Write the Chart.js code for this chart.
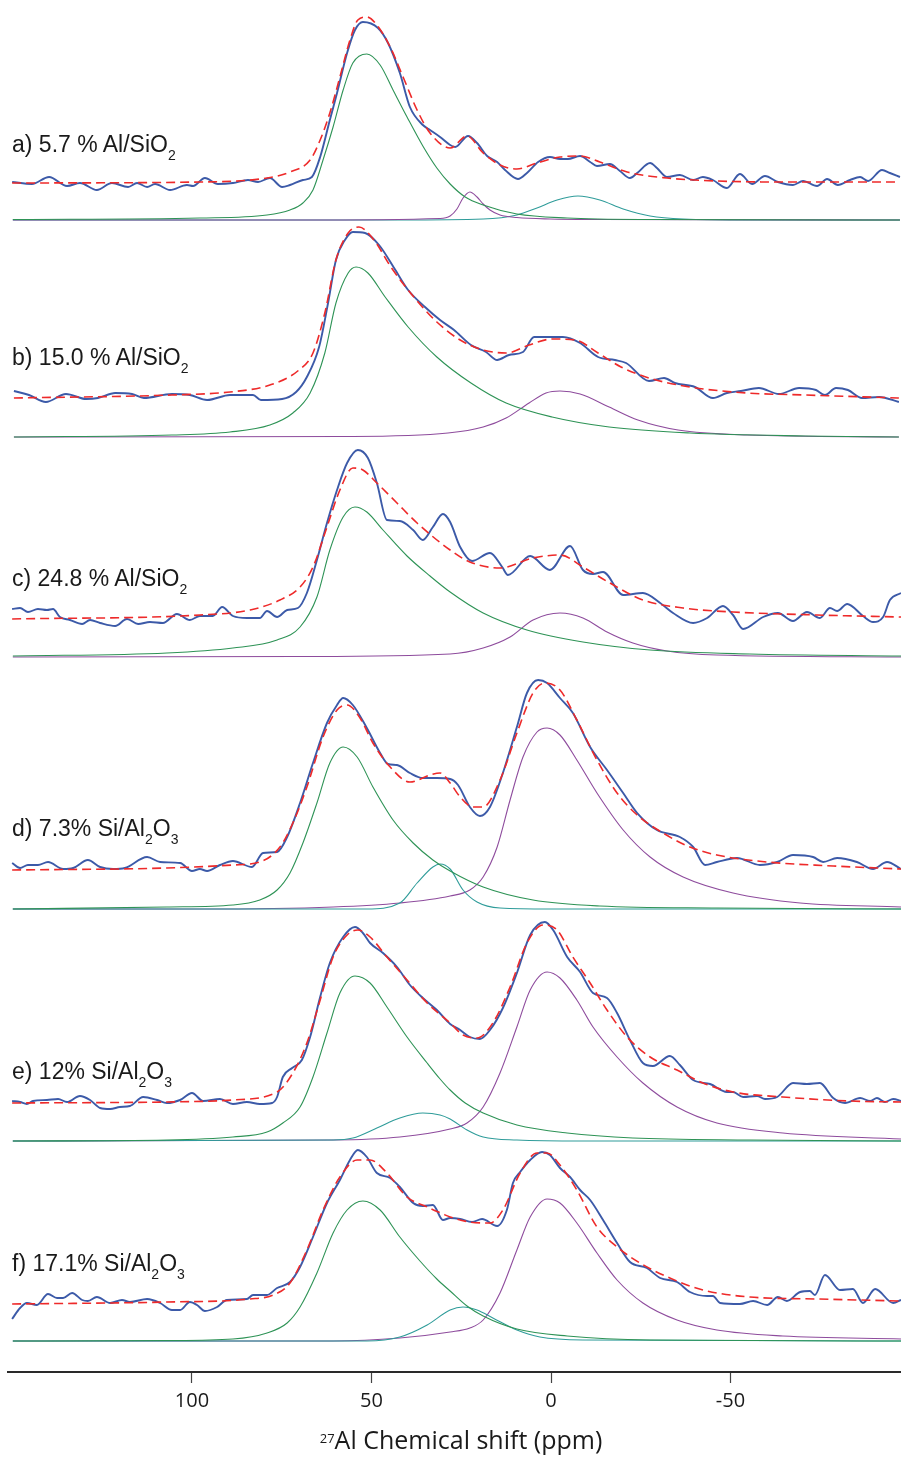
<!DOCTYPE html>
<html>
<head>
<meta charset="utf-8">
<script src="https://cdn.jsdelivr.net/npm/chart.js@4.4.1/dist/chart.umd.min.js"></script>
<style>
  html, body { margin: 0; padding: 0; background: #ffffff; }
  #wrap { position: relative; width: 901px; height: 1457px; overflow: hidden; }
  canvas { position: absolute; left: 0; top: 0; }
  .lbl { position: absolute; left: 12px; font-family: "Liberation Sans", Arimo, Helvetica, Arial, sans-serif;
         font-size: 23px; line-height: 23px; color: #1a1a1a; white-space: nowrap; }
  .lbl .s { font-size: 14px; position: relative; top: 8px; }
  #xtitle { position: absolute; top: 1425px; left: 0; width: 922px; text-align: center;
            font-family: "Open Sans", "Noto Sans", sans-serif; font-size: 25px; line-height: 28px; color: #1a1a1a; }
  #xtitle sup { font-size: 13px; position: relative; top: -1px; vertical-align: top; }
</style>
</head>
<body>
<div id="wrap">
  <canvas id="nmr" width="901" height="1457"></canvas>
  <div class="lbl" style="top:133px">a) 5.7 % Al/SiO<span class="s">2</span></div>
  <div class="lbl" style="top:346px">b) 15.0 % Al/SiO<span class="s">2</span></div>
  <div class="lbl" style="top:567px">c) 24.8 % Al/SiO<span class="s">2</span></div>
  <div class="lbl" style="top:817px">d) 7.3% Si/Al<span class="s">2</span>O<span class="s">3</span></div>
  <div class="lbl" style="top:1060px">e) 12% Si/Al<span class="s">2</span>O<span class="s">3</span></div>
  <div class="lbl" style="top:1252px">f) 17.1% Si/Al<span class="s">2</span>O<span class="s">3</span></div>
  <div id="xtitle"><sup>27</sup>Al Chemical shift (ppm)</div>
</div>
<script>
// 27Al MAS NMR spectra: [chemical shift (ppm), intensity (a.u.)]
// exp = measured spectrum, fit = total fit, the rest are the fitted components.

// a) 5.7 % Al/SiO2
const expA = [[150.1,38],[144.6,36],[139.8,43],[134.8,34],[131.2,37],[126.5,30],[122.3,37],[117.8,33],[115.3,37],[112.5,33],[110.3,36],[106.1,30],[101.4,35],[99.7,34],[96.4,42],[92.8,36],[88.6,37],[84.4,40],[81.6,38],[78.3,42],[74.9,33],[72.7,35],[69.1,40],[66.6,43],[64.3,63],[61.6,100],[59.6,127],[56.8,167],[54.6,190],[52.4,198],[48.2,192],[45.4,177],[42.1,147],[39.3,113],[35.7,95],[33.7,90],[30.9,83],[28.1,75],[26.7,73],[23.1,84],[20.6,77],[17.8,64],[15.0,58],[12.8,50],[9.2,41],[6.7,47],[3.6,58],[0.3,63],[-2.5,61],[-4.7,61],[-8.1,64],[-10.9,58],[-12.8,54],[-16.4,56],[-19.2,49],[-22.0,42],[-24.0,47],[-27.6,57],[-29.5,52],[-32.3,43],[-35.9,45],[-39.6,40],[-42.3,43],[-45.1,40],[-49.0,32],[-52.6,46],[-56.0,36],[-59.6,44],[-63.2,38],[-67.4,35],[-70.2,39],[-74.1,34],[-76.9,41],[-79.9,35],[-83.3,40],[-86.1,43],[-88.3,39],[-92.2,50],[-94.4,47],[-97.2,43]];
const fitA = [[150.1,37],[97.8,38],[79.1,42],[72.7,48],[67.1,60],[64.3,80],[61.6,107],[58.8,143],[56.0,180],[53.8,200],[51.3,203],[48.5,195],[44.8,173],[41.2,143],[37.3,110],[33.7,87],[28.1,72],[23.4,84],[18.9,67],[14.2,55],[9.5,51],[3.9,57],[-2.5,63],[-8.1,64],[-13.6,58],[-21.2,48],[-32.3,42],[-46.2,39],[-64.6,38],[-97.2,38]];
const tetA = [[149.9,0.5],[97.8,2],[79.1,5],[72.7,10],[69.1,17],[66.3,30],[63.5,60],[60.7,93],[57.9,130],[55.2,157],[51.3,166],[47.6,155],[44.0,130],[40.1,103],[35.7,74],[31.8,52],[28.1,36],[23.9,23],[18.9,15],[9.5,6],[-4.5,2],[-27.6,0.5],[-97.2,0]];
const pentA = [[149.9,0],[69.9,0],[30.9,1.5],[28.1,4],[26.2,11],[24.5,22],[22.6,28],[20.6,23],[18.9,16],[17.0,10],[14.2,5],[9.5,2.5],[0.3,1],[-13.6,0.5],[-97.2,0]];
const octA = [[149.9,0],[42.1,0],[18.9,1],[9.5,5],[3.9,12],[-1.7,20],[-7.5,24],[-13.6,20],[-20.1,11],[-27.6,4],[-36.8,1],[-55.4,0],[-97.2,0]];

// b) 15.0 % Al/SiO2
const expB = [[149.6,46],[145.4,42],[140.7,35],[135.1,43],[129.5,38],[126.2,39],[121.4,44],[116.7,43],[113.4,39],[105.6,43],[100.6,42],[95.8,37],[89.4,42],[83.0,42],[80.8,37],[74.9,38],[71.0,45],[68.0,60],[64.6,90],[62.1,134],[59.9,177],[57.4,197],[55.2,205],[51.8,204],[47.9,192],[43.7,169],[39.8,147],[35.1,130],[30.9,117],[27.0,107],[22.3,92],[18.1,85],[15.0,77],[11.7,82],[7.8,85],[4.7,100],[1.4,100],[-3.3,100],[-8.1,94],[-13.1,80],[-17.8,77],[-20.9,74],[-27.3,56],[-31.5,59],[-34.5,54],[-40.1,50],[-45.1,39],[-49.0,44],[-52.9,46],[-57.9,49],[-63.5,43],[-69.1,49],[-73.8,47],[-76.3,42],[-79.4,49],[-82.7,47],[-86.6,39],[-91.4,40],[-96.9,35]];
const fitB = [[149.6,39],[105.6,42],[89.4,45],[78.3,52],[70.2,67],[66.3,84],[63.0,124],[59.9,177],[56.5,204],[53.5,210],[49.3,197],[44.6,170],[38.2,140],[31.8,115],[25.3,97],[18.9,87],[12.5,84],[6.1,92],[-0.3,98],[-6.7,97],[-13.1,84],[-19.5,70],[-27.3,59],[-38.7,50],[-54.6,44],[-70.8,42],[-96.9,39]];
const tetB = [[149.6,0],[105.6,2],[89.4,5],[78.3,12],[71.9,24],[67.1,44],[63.0,84],[59.9,134],[56.5,164],[54.3,170],[51.0,164],[46.2,140],[39.8,110],[31.8,80],[22.3,54],[12.5,34],[-0.3,20],[-16.2,10],[-38.7,4],[-70.8,1],[-96.9,0]];
const octB = [[149.6,0],[57.4,0.5],[28.7,4],[18.9,10],[12.5,19],[6.1,34],[1.4,44],[-2.5,46],[-8.1,43],[-16.2,30],[-24.2,17],[-35.4,7],[-54.6,2],[-96.9,0]];

// c) 24.8 % Al/SiO2
const expC = [[150.1,48],[147.9,49],[145.7,45],[142.9,48],[140.4,47],[138.7,48],[136.8,40],[134.0,37],[130.6,33],[128.4,37],[125.6,34],[121.4,31],[118.1,38],[115.0,33],[111.7,35],[108.1,34],[104.2,43],[100.6,37],[97.8,41],[94.2,41],[91.6,50],[88.6,41],[84.7,39],[81.1,39],[79.1,46],[76.3,40],[73.5,47],[70.5,49],[68.0,64],[65.2,97],[62.4,134],[59.6,167],[56.8,194],[53.8,207],[51.0,199],[48.5,174],[45.7,137],[42.1,136],[38.4,127],[35.7,117],[32.9,130],[30.1,143],[28.1,135],[25.3,110],[22.0,96],[17.0,104],[13.6,90],[12.0,82],[5.8,101],[0.3,87],[-5.3,111],[-8.9,87],[-11.7,83],[-14.5,85],[-20.1,62],[-25.6,64],[-30.4,54],[-34.0,44],[-39.6,34],[-43.5,39],[-47.9,51],[-50.7,42],[-53.5,28],[-59.1,40],[-63.2,44],[-67.4,36],[-71.3,45],[-74.9,39],[-77.7,49],[-79.7,46],[-82.5,53],[-86.9,41],[-89.7,35],[-92.5,40],[-94.4,57],[-97.5,64]];
const fitC = [[150.1,38],[97.8,42],[83.8,47],[75.5,57],[69.9,70],[66.3,90],[62.4,130],[58.8,167],[55.2,189],[52.4,187],[48.5,174],[42.9,154],[37.3,134],[28.1,107],[22.6,95],[14.2,89],[5.0,99],[-2.5,102],[-8.9,90],[-16.4,74],[-25.6,57],[-36.8,49],[-50.7,45],[-74.1,42],[-97.5,40]];
const tetC = [[149.9,1],[107.0,4],[88.6,9],[76.3,17],[69.9,30],[65.2,60],[61.6,107],[57.9,140],[54.6,150],[51.3,145],[46.8,127],[40.1,101],[33.7,81],[28.1,65],[18.9,44],[6.7,27],[-8.9,15],[-27.6,7],[-55.4,3],[-97.5,1]];
const octC = [[149.9,0],[69.9,0.5],[28.1,3],[18.9,9],[11.4,20],[5.0,37],[-2.5,44],[-8.9,39],[-15.6,25],[-22.8,14],[-32.3,6],[-46.2,2],[-97.5,0]];

// d) 7.3% Si/Al2O3
const expD = [[150.1,46],[147.9,41],[145.7,44],[142.9,44],[140.1,47],[135.9,40],[133.1,41],[129.0,49],[125.6,42],[122.0,40],[118.7,41],[112.5,52],[108.9,47],[103.3,46],[100.0,38],[97.8,40],[95.8,38],[92.2,44],[88.6,48],[83.3,42],[80.2,56],[76.3,57],[73.5,72],[69.9,106],[66.3,146],[62.4,186],[59.6,204],[57.9,211],[55.2,204],[51.3,181],[47.6,156],[45.4,145],[42.9,144],[39.3,136],[35.7,131],[31.8,131],[28.1,130],[25.9,124],[22.6,102],[19.8,93],[17.0,102],[13.4,136],[9.5,182],[6.7,216],[3.6,229],[1.1,226],[-2.5,211],[-6.1,196],[-10.9,162],[-15.6,139],[-20.1,116],[-24.0,96],[-29.5,79],[-35.9,72],[-39.6,62],[-42.9,44],[-46.2,47],[-51.8,51],[-58.2,44],[-63.0,47],[-67.4,54],[-73.0,52],[-75.8,47],[-79.7,51],[-85.2,47],[-89.7,40],[-93.6,47],[-97.5,40]];
const fitD = [[150.1,39],[107.0,41],[88.6,44],[81.1,47],[75.5,62],[71.9,86],[68.0,122],[63.5,172],[59.6,199],[56.8,204],[53.2,191],[49.6,166],[44.8,142],[39.3,127],[33.7,134],[30.9,136],[28.1,126],[25.3,112],[21.7,102],[18.9,102],[14.2,129],[9.5,176],[5.0,216],[1.7,226],[-2.5,219],[-7.2,189],[-12.8,149],[-18.4,116],[-24.0,94],[-31.2,76],[-38.7,62],[-46.2,54],[-60.2,47],[-78.6,43],[-97.5,40]];
const tetD = [[149.9,0],[107.0,2],[88.6,4],[81.1,9],[76.3,19],[72.7,36],[69.1,66],[65.2,106],[61.6,146],[57.9,162],[54.0,152],[49.6,122],[44.0,89],[38.4,66],[32.9,49],[28.1,38],[18.9,22],[5.0,9],[-13.6,3],[-46.2,1],[-97.5,0]];
const pentD = [[149.9,0],[51.3,0],[42.1,6],[37.3,26],[32.9,42],[30.9,45],[28.1,40],[24.5,19],[20.6,7],[14.2,1],[0.3,0],[-97.5,0]];
const octD = [[149.9,0],[97.8,0],[60.7,2],[42.1,6],[28.1,13],[22.6,19],[18.9,32],[15.0,62],[11.4,109],[7.8,152],[3.9,177],[1.1,181],[-2.5,174],[-7.2,149],[-12.8,116],[-20.1,79],[-27.6,52],[-36.8,32],[-50.7,16],[-69.4,6],[-97.5,2]];

// e) 12% Si/Al2O3
const expE = [[150.1,40],[147.9,39],[146.0,37],[144.3,40],[140.4,41],[137.3,42],[134.8,39],[131.2,45],[128.4,41],[125.6,33],[122.8,32],[120.1,34],[117.3,35],[113.6,44],[109.7,41],[107.0,38],[103.3,41],[100.0,48],[96.9,40],[92.2,42],[88.6,37],[84.7,39],[81.1,37],[77.7,38],[76.3,44],[74.7,64],[72.1,73],[69.4,81],[67.1,104],[64.3,144],[61.6,178],[57.9,204],[54.6,214],[52.4,208],[50.4,198],[46.8,188],[42.9,174],[39.3,156],[35.7,143],[31.8,131],[28.1,117],[25.3,111],[22.6,104],[19.8,102],[17.0,111],[13.4,133],[9.5,168],[5.8,206],[1.7,219],[-0.6,211],[-4.5,184],[-8.1,169],[-11.7,148],[-15.6,143],[-18.4,128],[-22.0,101],[-25.6,78],[-28.4,75],[-33.1,85],[-35.9,76],[-39.6,61],[-44.3,57],[-49.0,49],[-50.7,49],[-53.5,44],[-57.4,45],[-59.6,42],[-63.0,44],[-67.4,58],[-71.3,57],[-74.9,58],[-78.6,43],[-81.9,38],[-86.1,43],[-88.9,40],[-90.8,43],[-93.0,39],[-95.3,42],[-97.5,40]];
const fitE = [[150.1,38],[107.0,39],[88.6,41],[76.3,49],[71.9,68],[68.0,98],[64.3,141],[60.7,184],[56.8,206],[53.8,211],[50.4,204],[45.7,184],[40.1,161],[34.5,138],[28.1,118],[24.5,106],[20.6,103],[16.2,118],[11.4,154],[6.7,198],[2.2,216],[-1.7,211],[-6.1,184],[-10.9,158],[-15.6,131],[-21.2,104],[-27.6,84],[-35.1,71],[-42.3,58],[-50.7,49],[-64.6,44],[-83.3,40],[-97.5,39]];
const tetE = [[149.9,0],[107.0,1],[88.6,4],[79.1,9],[74.7,18],[69.9,34],[66.3,64],[62.4,108],[58.8,148],[54.6,165],[50.4,158],[45.7,134],[40.1,104],[34.5,78],[30.9,62],[28.1,51],[23.9,38],[18.9,28],[9.5,16],[-4.5,8],[-22.8,3],[-55.4,1],[-97.5,0]];
const pentE = [[149.9,0],[60.7,1],[55.2,3],[48.5,13],[42.1,23],[35.7,28],[30.9,26],[28.1,22],[23.4,11],[18.9,4],[9.5,1],[-8.9,0],[-97.5,0]];
const octE = [[149.9,0],[60.7,1],[42.1,4],[28.1,12],[23.4,18],[18.9,34],[14.2,68],[9.5,114],[5.8,151],[1.1,169],[-2.5,163],[-7.2,141],[-11.7,114],[-18.4,84],[-25.6,58],[-35.1,34],[-46.2,18],[-64.6,8],[-97.5,2]];

// f) 17.1% Si/Al2O3
const expF = [[150.1,22],[147.9,33],[146.0,38],[143.2,36],[140.1,47],[137.6,43],[135.9,43],[133.4,48],[130.6,41],[129.0,40],[126.5,44],[122.8,38],[119.5,41],[117.3,39],[112.5,42],[108.9,38],[105.6,31],[103.3,31],[100.6,39],[98.6,36],[96.4,30],[93.0,34],[90.3,41],[84.7,42],[83.0,46],[79.1,46],[76.3,53],[72.7,59],[69.9,74],[66.3,104],[62.4,138],[58.8,161],[56.0,181],[53.8,191],[51.3,184],[48.5,168],[44.8,163],[42.1,154],[38.4,138],[35.7,135],[32.9,136],[30.1,121],[28.1,123],[25.3,122],[22.0,119],[19.2,122],[15.0,115],[12.3,131],[10.6,158],[8.6,169],[5.8,181],[2.5,189],[0.3,186],[-2.5,173],[-5.3,164],[-8.1,151],[-10.9,141],[-14.5,121],[-18.4,98],[-22.0,79],[-26.7,73],[-30.4,63],[-35.1,59],[-38.7,49],[-43.5,45],[-45.1,45],[-47.1,38],[-52.6,37],[-56.3,40],[-60.2,36],[-63.2,44],[-65.7,40],[-69.4,49],[-72.1,50],[-73.5,46],[-76.3,66],[-80.5,51],[-84.1,52],[-86.9,38],[-90.3,52],[-95.3,38],[-97.5,41]];
const fitF = [[150.1,37],[107.0,39],[83.8,42],[77.4,46],[72.7,58],[68.0,91],[63.5,131],[58.8,164],[54.0,181],[50.4,181],[45.7,168],[40.1,144],[34.5,134],[30.1,127],[28.1,124],[22.6,119],[17.0,118],[13.4,131],[8.6,168],[3.9,188],[1.1,188],[-2.5,176],[-7.2,151],[-12.8,114],[-18.4,94],[-24.8,78],[-33.1,63],[-42.3,51],[-55.4,44],[-74.1,42],[-97.5,40]];
const tetF = [[149.9,0],[107.0,0.5],[88.6,2],[79.1,8],[73.5,18],[69.9,34],[65.2,68],[60.7,108],[56.8,131],[52.4,140],[47.6,131],[42.1,104],[36.5,80],[31.8,62],[28.1,50],[23.4,35],[18.9,25],[9.5,12],[-4.5,5],[-27.6,1],[-97.5,0]];
const pentF = [[149.9,0],[51.3,0],[42.1,4],[34.5,16],[28.1,31],[24.5,34],[20.6,31],[16.2,23],[9.5,11],[3.1,4],[-8.9,1],[-97.5,0]];
const octF = [[149.9,0],[60.7,0],[42.1,3],[28.1,9],[22.6,13],[18.9,21],[14.2,48],[9.5,91],[5.8,124],[1.1,142],[-2.5,138],[-7.2,118],[-12.8,88],[-18.4,61],[-25.6,38],[-35.1,21],[-46.2,11],[-64.6,5],[-97.5,2]];

// x-axis tick labels (ppm)
const xTicks = [100, 50, 0, -50];

// vertical stacking of the six spectra (intensity units)
const stackOffsets = [1152, 935, 715, 463, 231, 31];

const COLORS = { exp: '#3c5aa8', fit: '#ee2a2a', tet: '#2e9356', pent: '#8e4c9d', oct: '#2f9c9a' };

const spectra = [
  { exp: expA, fit: fitA, comps: [[tetA, COLORS.tet], [pentA, COLORS.pent], [octA, COLORS.oct]] },
  { exp: expB, fit: fitB, comps: [[tetB, COLORS.tet], [octB, COLORS.pent]] },
  { exp: expC, fit: fitC, comps: [[tetC, COLORS.tet], [octC, COLORS.pent]] },
  { exp: expD, fit: fitD, comps: [[tetD, COLORS.tet], [pentD, COLORS.oct], [octD, COLORS.pent]] },
  { exp: expE, fit: fitE, comps: [[tetE, COLORS.tet], [pentE, COLORS.oct], [octE, COLORS.pent]] },
  { exp: expF, fit: fitF, comps: [[tetF, COLORS.tet], [pentF, COLORS.oct], [octF, COLORS.pent]] }
];

const shift = (arr, off) => arr.map(p => ({ x: p[0], y: p[1] + off }));

const datasets = [];
spectra.forEach((s, i) => {
  const off = stackOffsets[i];
  s.comps.forEach(([arr, col]) => {
    datasets.push({ data: shift(arr, off), borderColor: col, borderWidth: 1.1, order: 3 });
  });
  datasets.push({ data: shift(s.exp, off), borderColor: COLORS.exp, borderWidth: 1.9, order: 2 });
  datasets.push({ data: shift(s.fit, off), borderColor: COLORS.fit, borderWidth: 1.6, borderDash: [9, 5], order: 1 });
});

new Chart(document.getElementById('nmr'), {
  type: 'line',
  data: { datasets },
  options: {
    responsive: false,
    animation: false,
    layout: { padding: { left: 8, right: 0, top: 0, bottom: 0 } },
    elements: {
      point: { radius: 0, hoverRadius: 0 },
      line: { cubicInterpolationMode: 'monotone', fill: false }
    },
    plugins: { legend: { display: false }, tooltip: { enabled: false }, title: { display: false } },
    events: [],
    scales: {
      x: {
        type: 'linear',
        reverse: true,
        min: -97.49,
        max: 151.25,
        afterBuildTicks: (scale) => { scale.ticks = xTicks.map(v => ({ value: v })); },
        afterFit: (scale) => { scale.height = 85; },
        border: { display: true, color: '#2a2a2a', width: 2 },
        grid: { drawOnChartArea: false, drawTicks: true, tickLength: 11, tickColor: '#444', tickWidth: 1.2 },
        ticks: {
          color: '#1a1a1a',
          padding: 6,
          maxRotation: 0,
          font: { family: '"Open Sans", "Noto Sans", sans-serif', size: 20 },
          callback: (v) => String(v)
        }
      },
      y: { display: false, min: 0, max: 1372 }
    }
  }
});
</script>
</body>
</html>
